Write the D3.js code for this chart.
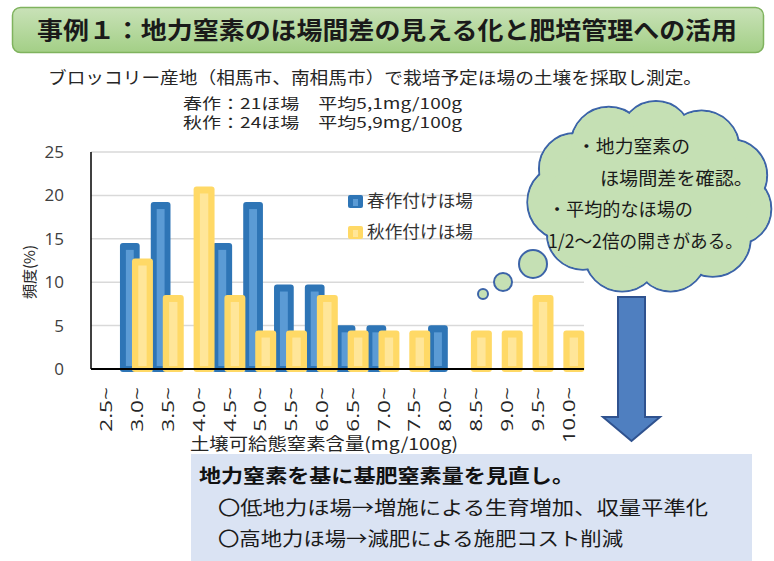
<!DOCTYPE html>
<html>
<head>
<meta charset="utf-8">
<script src="https://cdn.jsdelivr.net/npm/d3@7"></script>
<style>
  body { margin: 0; background: #fff; }
  svg { display: block; }
  text { font-family: "Noto Sans CJK JP", "Noto Sans", sans-serif; fill: #262626; }
  .num { font-family: "Open Sans", "Noto Sans", sans-serif; }
</style>
</head>
<body>
<svg id="chart"></svg>
<script>
// bins of soil available nitrogen (mg/100g)
let categories = ["2.5~", "3.0~", "3.5~", "4.0~", "4.5~", "5.0~", "5.5~", "6.0~",
  "6.5~", "7.0~", "7.5~", "8.0~", "8.5~", "9.0~", "9.5~", "10.0~"];
// frequency (%) - spring crop fields (21) and autumn crop fields (24)
let spring = [0, 14.3, 19.0, 0, 14.3, 19.0, 9.5, 9.5, 4.8, 4.8, 0, 4.8, 0, 0, 0, 0];
let autumn = [0, 12.5, 8.3, 20.8, 8.3, 4.2, 4.2, 8.3, 4.2, 4.2, 4.2, 0, 4.2, 4.2, 8.3, 4.2];
let yTicks = [0, 5, 10, 15, 20, 25];
let seriesNames = ["春作付けほ場", "秋作付けほ場"];

let w = 774;
let h = 561;
let plot = {left: 91, right: 584, top: 152, bottom: 369};

let colors = {
  spring: {outer: '#2e75b6', inner: '#5b9bd5'},
  autumn: {outer: '#ffd966', inner: '#ffe699'}
};

let svg = d3.select('#chart').attr('width', w).attr('height', h);

// ---- title banner
let grad = svg.append('defs').append('linearGradient')
  .attr('id', 'bannerGrad').attr('x1', 0).attr('y1', 0).attr('x2', 0).attr('y2', 1);
grad.append('stop').attr('offset', '0%').attr('stop-color', '#c9e2b8');
grad.append('stop').attr('offset', '100%').attr('stop-color', '#a3cf86');

svg.append('rect')
  .attr('x', 12.5).attr('y', 7.5).attr('width', 751).attr('height', 45)
  .attr('rx', 8)
  .attr('fill', 'url(#bannerGrad)')
  .attr('stroke', '#7fb35e').attr('stroke-width', 1.5);

svg.append('text')
  .attr('x', 37).attr('y', 39)
  .attr('font-size', 24).attr('font-weight', 'bold')
  .attr('textLength', 700).attr('lengthAdjust', 'spacingAndGlyphs')
  .style('fill', '#1a1a1a')
  .text('事例１：地力窒素のほ場間差の見える化と肥培管理への活用');

svg.append('text')
  .attr('x', 48).attr('y', 84)
  .attr('font-size', 17)
  .attr('textLength', 654).attr('lengthAdjust', 'spacingAndGlyphs')
  .text('ブロッコリー産地（相馬市、南相馬市）で栽培予定ほ場の土壌を採取し測定。');

svg.append('text')
  .attr('x', 183).attr('y', 109)
  .attr('font-size', 15)
  .attr('textLength', 279).attr('lengthAdjust', 'spacingAndGlyphs')
  .text('春作：21ほ場　平均5,1mg/100g');

svg.append('text')
  .attr('x', 183).attr('y', 128)
  .attr('font-size', 15)
  .attr('textLength', 279).attr('lengthAdjust', 'spacingAndGlyphs')
  .text('秋作：24ほ場　平均5,9mg/100g');

// ---- scales
let xScale = d3.scaleBand()
  .domain(categories)
  .range([plot.left, plot.right])
  .padding(0);

let yScale = d3.scaleLinear()
  .domain([0, 25])
  .range([plot.bottom, plot.top]);

let bw = xScale.bandwidth();

// gridlines
svg.append('g')
  .selectAll('line')
  .data(yTicks.filter(d => d > 0))
  .enter()
  .append('line')
  .attr('x1', plot.left).attr('x2', plot.right)
  .attr('y1', d => yScale(d)).attr('y2', d => yScale(d))
  .attr('stroke', '#d9d9d9').attr('stroke-width', 1.5);

// y axis
let yAxis = d3.axisLeft(yScale).tickValues(yTicks).tickSize(0).tickPadding(0);
let yG = svg.append('g')
  .attr('transform', 'translate(' + 64 + ', 0)')
  .call(yAxis);
yG.select('.domain').remove();
yG.selectAll('text')
  .attr('class', 'num')
  .attr('font-size', 17)
  .style('fill', '#404040');

svg.append('line')
  .attr('x1', plot.left).attr('x2', plot.left)
  .attr('y1', plot.top).attr('y2', plot.bottom)
  .attr('stroke', '#000').attr('stroke-width', 1.5);

svg.append('text')
  .attr('transform', 'translate(35, 272) rotate(-90)')
  .attr('text-anchor', 'middle')
  .attr('font-size', 15)
  .text('頻度(%)');

// ---- bars (outer edge sits ~2px above the value, like the bevel in the original)
const drawBars = (values, offset, width, c) => {
  let g = svg.append('g');
  let rows = values.map((v, i) => ({cat: categories[i], v: v})).filter(d => d.v > 0);
  let bars = g.selectAll('g')
    .data(rows)
    .enter()
    .append('g');
  bars.append('rect')
    .attr('x', d => xScale(d.cat) + bw / 2 + offset)
    .attr('y', d => yScale(d.v) - 2)
    .attr('width', width)
    .attr('height', d => plot.bottom + 5 - yScale(d.v))
    .attr('rx', 3)
    .attr('fill', c.outer);
  bars.append('rect')
    .attr('x', d => xScale(d.cat) + bw / 2 + offset + width * 0.3)
    .attr('y', d => yScale(d.v) + 5)
    .attr('width', width * 0.4)
    .attr('height', d => Math.max(0, plot.bottom - 3 - yScale(d.v) - 5))
    .attr('fill', c.inner);
};

drawBars(spring, -bw * 0.56, bw * 0.64, colors.spring);
drawBars(autumn, -bw * 0.17, bw * 0.68, colors.autumn);

// x axis line
svg.append('line')
  .attr('x1', plot.left).attr('x2', plot.right)
  .attr('y1', plot.bottom).attr('y2', plot.bottom)
  .attr('stroke', '#000').attr('stroke-width', 2);

// x tick labels (rotated)
let xAxis = d3.axisBottom(xScale).tickSize(0);
let xG = svg.append('g')
  .attr('transform', 'translate(0, ' + plot.bottom + ')')
  .call(xAxis);
xG.select('.domain').remove();
xG.selectAll('text')
  .attr('class', 'num')
  .attr('font-size', 17)
  .attr('transform', 'rotate(-90)')
  .attr('text-anchor', 'end')
  .attr('x', -18)
  .attr('y', 0)
  .attr('dy', '0.35em')
  .attr('textLength', d => d.length * 11.2)
  .attr('lengthAdjust', 'spacingAndGlyphs')
  .style('fill', '#262626');

svg.append('text')
  .attr('x', 190).attr('y', 450)
  .attr('font-size', 17)
  .attr('textLength', 268).attr('lengthAdjust', 'spacingAndGlyphs')
  .text('土壌可給態窒素含量(mg/100g)');

// legend
let legend = svg.append('g');
[colors.spring, colors.autumn].forEach((c, i) => {
  legend.append('rect')
    .attr('x', 348).attr('y', 195 + i * 31)
    .attr('width', 15).attr('height', 13)
    .attr('rx', 2)
    .attr('fill', c.outer);
  legend.append('rect')
    .attr('x', 353).attr('y', 199 + i * 31)
    .attr('width', 5).attr('height', 7)
    .attr('fill', c.inner);
  legend.append('text')
    .attr('x', 367).attr('y', 207 + i * 31)
    .attr('font-size', 17)
    .attr('textLength', 106).attr('lengthAdjust', 'spacingAndGlyphs')
    .style('fill', '#333')
    .text(seriesNames[i]);
});

// ---- thought cloud
let cloudFill = '#c5e0b4';
let cloudStroke = '#3c64a8';
let cloud = svg.append('g');
let cx = 651, cy = 197;
let bumps = d3.range(11).map(i => {
  let a = i / 11 * Math.PI * 2 + 0.2;
  return {x: cx + 86 * Math.cos(a), y: cy + 60 * Math.sin(a), r: 36 + (i % 2) * 2};
});
cloud.selectAll('circle.edge')
  .data(bumps)
  .enter()
  .append('circle')
  .attr('class', 'edge')
  .attr('cx', d => d.x).attr('cy', d => d.y).attr('r', d => d.r)
  .attr('fill', cloudFill).attr('stroke', cloudStroke).attr('stroke-width', 2);
cloud.selectAll('circle.fill')
  .data(bumps)
  .enter()
  .append('circle')
  .attr('class', 'fill')
  .attr('cx', d => d.x).attr('cy', d => d.y).attr('r', d => d.r - 1)
  .attr('fill', cloudFill);
cloud.append('ellipse')
  .attr('cx', cx).attr('cy', cy).attr('rx', 100).attr('ry', 72)
  .attr('fill', cloudFill);

let puffs = [{x: 533, y: 264, r: 14}, {x: 503, y: 282, r: 9}, {x: 483, y: 294, r: 5}];
svg.selectAll('circle.puff')
  .data(puffs)
  .enter()
  .append('circle')
  .attr('class', 'puff')
  .attr('cx', d => d.x).attr('cy', d => d.y).attr('r', d => d.r)
  .attr('fill', cloudFill).attr('stroke', cloudStroke).attr('stroke-width', 2);

let cloudLines = [
  {t: '・地力窒素の', x: 577, y: 153, len: 113},
  {t: 'ほ場間差を確認。', x: 600, y: 185, len: 153},
  {t: '・平均的なほ場の', x: 548, y: 216, len: 145},
  {t: '1/2～2倍の開きがある。', x: 548, y: 248, len: 195}
];
svg.selectAll('text.cloud')
  .data(cloudLines)
  .enter()
  .append('text')
  .attr('class', 'cloud')
  .attr('x', d => d.x).attr('y', d => d.y)
  .attr('font-size', 18)
  .attr('textLength', d => d.len).attr('lengthAdjust', 'spacingAndGlyphs')
  .style('fill', '#1a1a1a')
  .text(d => d.t);

// ---- down arrow
svg.append('path')
  .attr('d', 'M618,297 L645,297 L645,417 L660,417 L631.5,441 L603,417 L618,417 Z')
  .attr('fill', '#4f7fc0')
  .attr('stroke', '#2f528f').attr('stroke-width', 2)
  .attr('stroke-linejoin', 'miter');

// ---- bottom note box
svg.append('rect')
  .attr('x', 191).attr('y', 454).attr('width', 561).attr('height', 107)
  .attr('fill', '#dae3f3');

svg.append('text')
  .attr('x', 199).attr('y', 483)
  .attr('font-size', 19).attr('font-weight', 'bold')
  .attr('textLength', 375).attr('lengthAdjust', 'spacingAndGlyphs')
  .style('fill', '#111')
  .text('地力窒素を基に基肥窒素量を見直し。');

svg.append('text')
  .attr('x', 218).attr('y', 515)
  .attr('font-size', 19)
  .attr('textLength', 490).attr('lengthAdjust', 'spacingAndGlyphs')
  .style('fill', '#1a1a1a')
  .text('〇低地力ほ場→増施による生育増加、収量平準化');

svg.append('text')
  .attr('x', 218).attr('y', 546)
  .attr('font-size', 19)
  .attr('textLength', 405).attr('lengthAdjust', 'spacingAndGlyphs')
  .style('fill', '#1a1a1a')
  .text('〇高地力ほ場→減肥による施肥コスト削減');
</script>
</body>
</html>
